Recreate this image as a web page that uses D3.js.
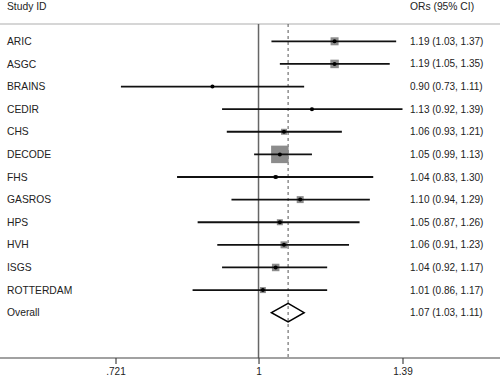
<!DOCTYPE html>
<html>
<head>
<meta charset="utf-8">
<script src="https://cdn.jsdelivr.net/npm/d3@7"></script>
<style>
  body { margin: 0; background: #fff; }
  svg { display: block; font-family: "Liberation Sans", Arial, sans-serif; }
</style>
</head>
<body>
<svg class="svg" width="500" height="378"></svg>
<script>
// study rows
const studies = ["ARIC", "ASGC", "BRAINS", "CEDIR", "CHS", "DECODE", "FHS", "GASROS", "HPS", "HVH", "ISGS", "ROTTERDAM"];
const ors = [1.19, 1.19, 0.90, 1.13, 1.06, 1.05, 1.04, 1.10, 1.05, 1.06, 1.04, 1.01];
const lower = [1.03, 1.05, 0.73, 0.92, 0.93, 0.99, 0.83, 0.94, 0.87, 0.91, 0.92, 0.86];
const upper = [1.37, 1.35, 1.11, 1.39, 1.21, 1.13, 1.30, 1.29, 1.26, 1.23, 1.17, 1.17];
// approximate weights (%) read from square sizes
const weights = [8.7, 9.8, 1.2, 1.2, 4.9, 41.5, 2.2, 6.6, 4.9, 6.6, 7.6, 4.9];
const overall = { label: "Overall", or: 1.07, lo: 1.03, hi: 1.11 };
const tickValues = [0.721, 1, 1.39];
const tickLabels = [".721", "1", "1.39"];

const width = 500, height = 378;
const axisY = 358, topLineY = 24;

const svg = d3.select('.svg');

const x = d3.scaleLog().domain([0.721, 1.39]).range([115.5, 402.5]);
const y = d3.scalePoint().domain([...studies, overall.label]).range([41.3, 312.7]);
const side = d3.scaleSqrt().domain([0, 41.5]).range([0, 17.5]);

const rows = studies.map((s, i) => ({ name: s, or: ors[i], lo: lower[i], hi: upper[i], w: weights[i] }));

const fmt = d3.format(".2f");

// headers
svg.append('text').attr('x', 7).attr('y', 10).attr('font-size', 10.3).attr('fill', '#222').text('Study ID');
svg.append('text').attr('x', 410).attr('y', 10).attr('font-size', 10.3).attr('fill', '#222').text('ORs (95% CI)');

// top separator
svg.append('line')
    .attr('x1', 0).attr('x2', width)
    .attr('y1', topLineY).attr('y2', topLineY)
    .attr('stroke', '#c8c8c8').attr('stroke-width', 1.5);

// null line
svg.append('line')
    .attr('x1', x(1)).attr('x2', x(1))
    .attr('y1', topLineY).attr('y2', axisY)
    .attr('stroke', '#666').attr('stroke-width', 1.5);

// overall dashed line
svg.append('line')
    .attr('x1', x(overall.or)).attr('x2', x(overall.or))
    .attr('y1', topLineY).attr('y2', axisY)
    .attr('stroke', '#555').attr('stroke-width', 1)
    .attr('stroke-dasharray', '3,3');

// study labels
svg.selectAll('.study-label').data([...rows, overall]).join('text')
    .classed('study-label', true)
    .attr('x', 7)
    .attr('y', d => y(d.name || d.label))
    .attr('dy', '0.35em')
    .attr('font-size', 10.3)
    .attr('fill', '#222')
    .text(d => d.name || d.label);

// weight squares
svg.selectAll('.weight-box').data(rows).join('rect')
    .classed('weight-box', true)
    .attr('x', d => x(d.or) - side(d.w) / 2)
    .attr('y', d => y(d.name) - side(d.w) / 2)
    .attr('width', d => side(d.w))
    .attr('height', d => side(d.w))
    .attr('fill', '#8c8c8c');

// CI lines
svg.selectAll('.ci-line').data(rows).join('line')
    .classed('ci-line', true)
    .attr('x1', d => x(d.lo)).attr('x2', d => x(d.hi))
    .attr('y1', d => y(d.name)).attr('y2', d => y(d.name))
    .attr('stroke', '#111').attr('stroke-width', 1.8);

// point estimates
svg.selectAll('.point-est').data(rows).join('circle')
    .classed('point-est', true)
    .attr('cx', d => x(d.or))
    .attr('cy', d => y(d.name))
    .attr('r', 2)
    .attr('fill', '#000');

// overall diamond
const oy = y(overall.label), dh = 9.3;
svg.append('path')
    .attr('d', d3.line()([[x(overall.lo), oy], [x(overall.or), oy - dh], [x(overall.hi), oy], [x(overall.or), oy + dh]]) + 'Z')
    .attr('fill', 'none')
    .attr('stroke', '#000')
    .attr('stroke-width', 1.5);

// value labels
svg.selectAll('.value-label').data([...rows, overall]).join('text')
    .classed('value-label', true)
    .attr('x', 410)
    .attr('y', d => y(d.name || d.label))
    .attr('dy', '0.35em')
    .attr('font-size', 10)
    .attr('fill', '#222')
    .text(d => `${fmt(d.or)} (${fmt(d.lo)}, ${fmt(d.hi)})`);

// x axis
svg.append('line')
    .attr('x1', 0).attr('x2', width)
    .attr('y1', axisY).attr('y2', axisY)
    .attr('stroke', '#444').attr('stroke-width', 1.2);

const axis = svg.append('g')
    .attr('transform', `translate(0,${axisY})`)
    .call(d3.axisBottom(x).tickValues(tickValues).tickFormat((d, i) => tickLabels[i]).tickSize(6).tickPadding(4));
axis.select('.domain').remove();
axis.selectAll('.tick line').attr('stroke', '#444').attr('stroke-width', 1.2);
axis.selectAll('.tick text').attr('font-size', 10).attr('fill', '#222')
    .attr('font-family', '"Liberation Sans", Arial, sans-serif');
</script>
</body>
</html>
